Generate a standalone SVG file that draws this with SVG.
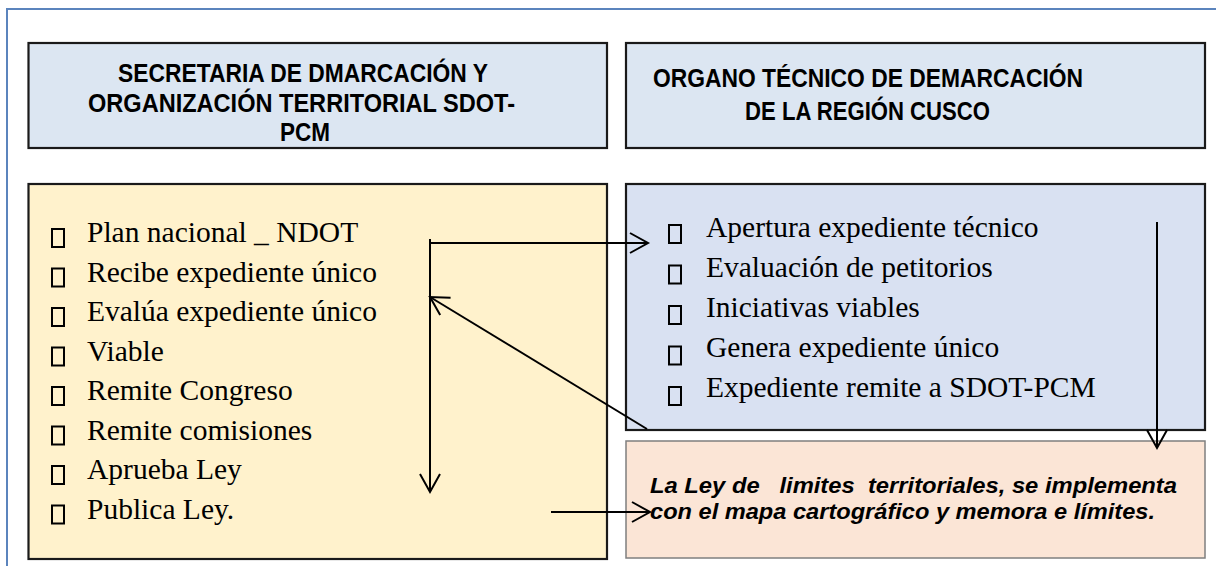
<svg xmlns="http://www.w3.org/2000/svg" width="1216" height="566" viewBox="0 0 1216 566">
<defs>
<style>
.frame{fill:none;stroke:#5b84bd;stroke-width:2}
.hdr{fill:#dce6f2;stroke:#1a1a1a;stroke-width:2.2}
.yel{fill:#fff2cc;stroke:#1a1a1a;stroke-width:2.2}
.blu{fill:#d9e1f2;stroke:#1a1a1a;stroke-width:2.2}
.pnk{fill:#fbe5d6;stroke:#7f7f7f;stroke-width:1.5}
.ht{font-family:"Liberation Sans",Arial,sans-serif;font-weight:bold;font-size:26px;fill:#000;text-anchor:middle}
.bt{font-family:"Liberation Serif","Times New Roman",serif;font-size:29.5px;fill:#000}
.pt{font-family:"Liberation Sans",Arial,sans-serif;font-weight:bold;font-style:italic;font-size:22.5px;fill:#000;white-space:pre}
.bul{fill:none;stroke:#000;stroke-width:2}
.con{fill:none;stroke:#000;stroke-width:2}
</style>
<marker id="arr" markerUnits="userSpaceOnUse" markerWidth="24" markerHeight="24" refX="20" refY="11" orient="auto" viewBox="0 0 24 22">
<path d="M2,1 L20,11 L2,21" fill="none" stroke="#000" stroke-width="2"/>
</marker>
</defs>
<rect width="1216" height="566" fill="#fff"/>
<path class="frame" d="M7,566 V9 H1216"/>
<g id="hdr-sdot">
<rect class="hdr" x="28.5" y="43" width="578.5" height="105"/>
<text class="ht" x="303" y="82" textLength="370" lengthAdjust="spacingAndGlyphs">SECRETARIA DE DMARCACIÓN Y</text>
<text class="ht" x="301.5" y="112" textLength="427" lengthAdjust="spacingAndGlyphs">ORGANIZACIÓN TERRITORIAL SDOT-</text>
<text class="ht" x="305" y="141" textLength="50" lengthAdjust="spacingAndGlyphs">PCM</text>
</g>
<g id="hdr-organo">
<rect class="hdr" x="626" y="43" width="579" height="105"/>
<text class="ht" x="868" y="87" textLength="430" lengthAdjust="spacingAndGlyphs">ORGANO TÉCNICO DE DEMARCACIÓN</text>
<text class="ht" x="867.5" y="120" textLength="245" lengthAdjust="spacingAndGlyphs">DE LA REGIÓN CUSCO</text>
</g>
<g id="sdot-steps">
<rect class="yel" x="28.5" y="184" width="578.5" height="375"/>
<rect class="bul" x="52" y="229" width="12" height="18"/>
<rect class="bul" x="52" y="268.5" width="12" height="18"/>
<rect class="bul" x="52" y="308" width="12" height="18"/>
<rect class="bul" x="52" y="347.5" width="12" height="18"/>
<rect class="bul" x="52" y="387" width="12" height="18"/>
<rect class="bul" x="52" y="426.5" width="12" height="18"/>
<rect class="bul" x="52" y="466" width="12" height="18"/>
<rect class="bul" x="52" y="505.5" width="12" height="18"/>
<text class="bt" x="87" y="242">Plan nacional _ NDOT</text>
<text class="bt" x="87" y="281.5">Recibe expediente único</text>
<text class="bt" x="87" y="321">Evalúa expediente único</text>
<text class="bt" x="87" y="360.5">Viable</text>
<text class="bt" x="87" y="400">Remite Congreso</text>
<text class="bt" x="87" y="439.5">Remite comisiones</text>
<text class="bt" x="87" y="479">Aprueba Ley</text>
<text class="bt" x="87" y="518.5">Publica Ley.</text>
</g>
<g id="organo-steps">
<rect class="blu" x="626" y="184" width="579" height="246"/>
<rect class="bul" x="669" y="225" width="12" height="18"/>
<rect class="bul" x="669" y="265.5" width="12" height="18"/>
<rect class="bul" x="669" y="306" width="12" height="18"/>
<rect class="bul" x="669" y="346.5" width="12" height="18"/>
<rect class="bul" x="669" y="387" width="12" height="18"/>
<text class="bt" x="706" y="237">Apertura expediente técnico</text>
<text class="bt" x="706" y="277">Evaluación de petitorios</text>
<text class="bt" x="706" y="317">Iniciativas viables</text>
<text class="bt" x="706" y="357">Genera expediente único</text>
<text class="bt" x="706" y="397">Expediente remite a SDOT-PCM</text>
</g>
<g id="ley">
<rect class="pnk" x="626" y="441" width="579" height="117"/>
<text class="pt" x="650" y="493" textLength="527" lengthAdjust="spacingAndGlyphs">La Ley de   limites  territoriales, se implementa</text>
<text class="pt" x="650" y="519" textLength="505" lengthAdjust="spacingAndGlyphs">con el mapa cartográfico y memora e límites.</text>
</g>
<g id="connectors">
<path class="con" d="M430,239 V492" marker-end="url(#arr)"/>
<path class="con" d="M430,243 H648" marker-end="url(#arr)"/>
<path class="con" d="M647,429 L430,297" marker-end="url(#arr)"/>
<path class="con" d="M551,512 H650" marker-end="url(#arr)"/>
<path class="con" d="M1157,222 V448" marker-end="url(#arr)"/>
</g>
</svg>
